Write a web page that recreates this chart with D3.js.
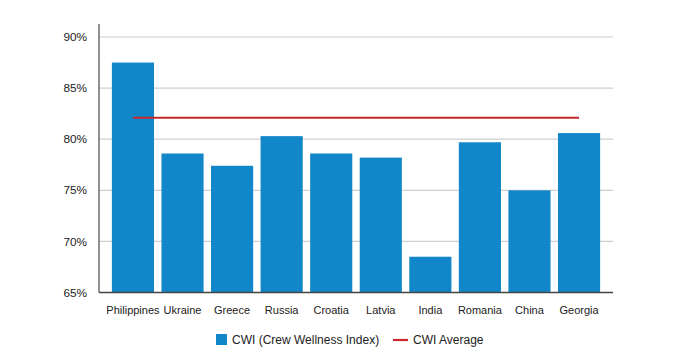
<!DOCTYPE html>
<html><head><meta charset="utf-8">
<script src="https://cdn.jsdelivr.net/npm/d3@7"></script>
<style>body{margin:0;background:#fff;font-family:"Liberation Sans",Arial,sans-serif;}</style>
</head><body>
<svg id="c" width="681" height="355"></svg>
<script>
const categories = ["Philippines","Ukraine","Greece","Russia","Croatia","Latvia","India","Romania","China","Georgia"];
const cwiValues = [87.5, 78.6, 77.4, 80.3, 78.6, 78.2, 68.5, 79.7, 75.0, 80.6];
const cwiAverage = 82.1;
const yTicks = [65, 70, 75, 80, 85, 90];
const seriesNames = ["CWI (Crew Wellness Index)", "CWI Average"];

(function () {
const svg = d3.select("#c");
const mLeft = 99, mRight = 613, mTop = 37, mBottom = 292.5;
const x = d3.scaleBand().domain(categories).range([mLeft, mRight]).paddingInner(0.15).paddingOuter(0.26);
const y = d3.scaleLinear().domain([65, 90]).range([mBottom, mTop]);

// gridlines
svg.append("g").selectAll("line").data(yTicks.filter(t => t > 65)).join("line")
  .attr("x1", mLeft).attr("x2", mRight)
  .attr("y1", d => y(d)).attr("y2", d => y(d))
  .attr("stroke", "#cfcfcf").attr("stroke-width", 1.2);

// y labels
svg.append("g").selectAll("text").data(yTicks).join("text")
  .attr("x", 87).attr("y", d => y(d)).attr("dy", "0.35em")
  .attr("text-anchor", "end").attr("font-size", 11.8).attr("fill", "#222")
  .text(d => d + "%");

// bars
svg.append("g").selectAll("rect").data(categories).join("rect")
  .attr("x", d => x(d)).attr("width", x.bandwidth())
  .attr("y", (d, i) => y(cwiValues[i]))
  .attr("height", (d, i) => mBottom - y(cwiValues[i]))
  .attr("fill", "#1187c9");

// axes lines
svg.append("line").attr("x1", mLeft).attr("x2", mLeft).attr("y1", 24).attr("y2", mBottom)
  .attr("stroke", "#555").attr("stroke-width", 1.3);
svg.append("line").attr("x1", mLeft).attr("x2", mRight).attr("y1", mBottom).attr("y2", mBottom)
  .attr("stroke", "#444").attr("stroke-width", 1.3);

// x labels
svg.append("g").selectAll("text").data(categories).join("text")
  .attr("x", d => x(d) + x.bandwidth() / 2).attr("y", 310).attr("dy", "0.35em")
  .attr("text-anchor", "middle").attr("font-size", 11).attr("fill", "#222")
  .text(d => d);

// average line
const c0 = x(categories[0]) + x.bandwidth() / 2;
const c1 = x(categories[categories.length - 1]) + x.bandwidth() / 2;
svg.append("line").attr("x1", c0).attr("x2", c1)
  .attr("y1", y(cwiAverage)).attr("y2", y(cwiAverage))
  .attr("stroke", "#c8282d").attr("stroke-width", 2.2);

// legend
const lg = svg.append("g");
lg.append("rect").attr("x", 216).attr("y", 334).attr("width", 11).attr("height", 11).attr("fill", "#1187c9");
lg.append("text").attr("x", 232).attr("y", 340).attr("dy", "0.35em").attr("font-size", 12).attr("fill", "#222").text(seriesNames[0]);
lg.append("line").attr("x1", 393).attr("x2", 408).attr("y1", 340).attr("y2", 340).attr("stroke", "#c8282d").attr("stroke-width", 2.2);
lg.append("text").attr("x", 413).attr("y", 340).attr("dy", "0.35em").attr("font-size", 12).attr("fill", "#222").text(seriesNames[1]);
})();
</script>
</body></html>
